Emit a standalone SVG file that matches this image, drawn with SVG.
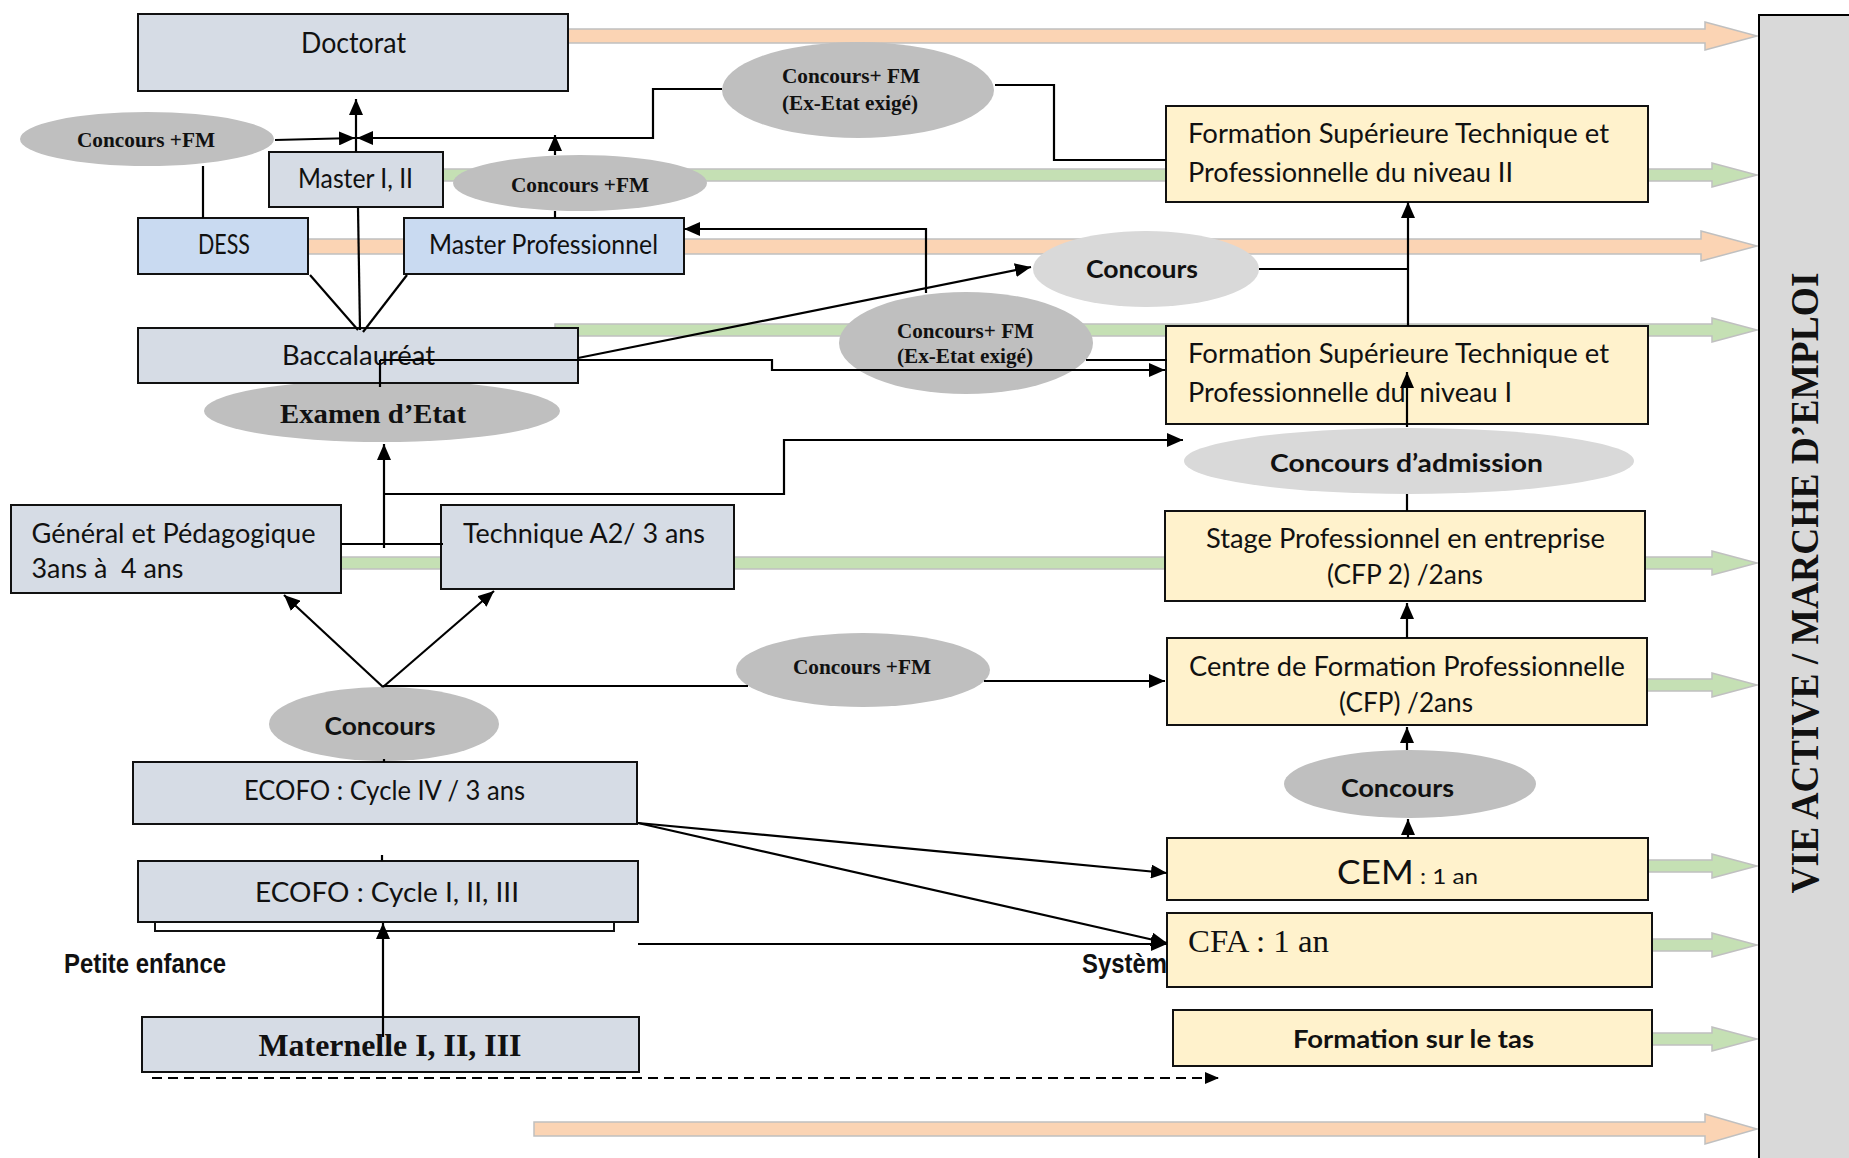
<svg xmlns="http://www.w3.org/2000/svg" width="1849" height="1158" viewBox="0 0 1849 1158">
<defs>
<marker id="ah" viewBox="0 0 16 14" markerWidth="16" markerHeight="14" refX="16" refY="7" markerUnits="userSpaceOnUse" orient="auto"><path d="M0,0 L16,7 L0,14 Z" fill="#000"/></marker>
<marker id="ahs" viewBox="0 0 14 12" markerWidth="14" markerHeight="12" refX="14" refY="6" markerUnits="userSpaceOnUse" orient="auto"><path d="M0,0 L14,6 L0,12 Z" fill="#000"/></marker>
</defs>
<style>
.box{fill:#d6dce5;stroke:#111;stroke-width:2}
.blue{fill:#c9daf1;stroke:#111;stroke-width:2}
.yel{fill:#fff2cc;stroke:#111;stroke-width:2}
.ell{fill:#bfbfbf}
.ell2{fill:#d9d9d9}
.orange{fill:#fbd4b4;stroke:#c0c0c0;stroke-width:1.5}
.green{fill:#c5e0b4;stroke:#c0c0c0;stroke-width:1.5}
.t{font-family:Lato,"Open Sans","Liberation Sans",sans-serif;font-size:26px;fill:#111}
.tb{font-family:Lato,"Open Sans","Liberation Sans",sans-serif;font-size:25px;font-weight:700;fill:#111}
.s{font-family:"Liberation Serif","Times New Roman",serif;font-weight:700;font-size:21px;fill:#111}
.n{font-family:"Liberation Sans",Arial,sans-serif;font-weight:700;font-size:28px;fill:#111}
.c{text-anchor:middle}
.ln{fill:none;stroke:#000;stroke-width:2.2}
</style>
<rect x="0" y="0" width="1849" height="1158" fill="#fff"/>

<g id="flow-arrows">
<path class="orange" d="M565,29 H1705 V22 L1757,36 L1705,50 V43 H565 Z"/>
<path class="orange" d="M305,239 H1701 V231 L1757,246 L1701,261 V254 H305 Z"/>
<path class="orange" d="M534,1122 H1705 V1114 L1757,1129 L1705,1144 V1136 H534 Z"/>
<path class="green" d="M440,169 H1712 V163 L1757,175 L1712,187 V181 H440 Z"/>
<path class="green" d="M555,324 H1712 V318 L1757,330 L1712,342 V336 H555 Z"/>
<path class="green" d="M341,557 H1712 V551 L1757,563 L1712,575 V569 H341 Z"/>
<path class="green" d="M1647,679 H1712 V673 L1757,685 L1712,697 V691 H1647 Z"/>
<path class="green" d="M1648,860 H1712 V854 L1757,866 L1712,878 V872 H1648 Z"/>
<path class="green" d="M1652,939 H1712 V933 L1757,945 L1712,957 V951 H1652 Z"/>
<path class="green" d="M1652,1033 H1712 V1027 L1757,1039 L1712,1051 V1045 H1652 Z"/>
</g>

<g id="doctorat"><rect class="box" x="138" y="14" width="430" height="77"/><text class="t c" x="353.5" y="53" style="font-size:29px" textLength="105" lengthAdjust="spacingAndGlyphs">Doctorat</text></g>
<g id="concours-fm-1"><ellipse class="ell" cx="147" cy="139" rx="127" ry="27"/><text class="s c" x="146" y="147" textLength="138" lengthAdjust="spacingAndGlyphs">Concours +FM</text></g>
<g id="master"><rect class="box" x="269" y="152" width="174" height="55"/><text class="t c" x="355.5" y="188" textLength="115" lengthAdjust="spacingAndGlyphs">Master I, II</text></g>
<g id="concours-fm-2"><ellipse class="ell" cx="580" cy="183" rx="127" ry="28"/><text class="s c" x="580" y="192" textLength="138" lengthAdjust="spacingAndGlyphs">Concours +FM</text></g>
<g id="concours-fm-exetat-1"><ellipse class="ell" cx="858" cy="90" rx="136" ry="48"/><text class="s c" x="851" y="83" textLength="138" lengthAdjust="spacingAndGlyphs">Concours+ FM</text><text class="s c" x="850" y="110" textLength="136" lengthAdjust="spacingAndGlyphs">(Ex-Etat exigé)</text></g>
<g id="dess"><rect class="blue" x="138" y="218" width="170" height="56"/><text class="t c" x="224" y="254" textLength="52" lengthAdjust="spacingAndGlyphs">DESS</text></g>
<g id="master-pro"><rect class="blue" x="404" y="218" width="280" height="56"/><text class="t c" x="543.5" y="254" textLength="229" lengthAdjust="spacingAndGlyphs">Master Professionnel</text></g>
<g id="concours-1"><ellipse class="ell2" cx="1146" cy="269" rx="113" ry="38"/><text class="tb c" x="1142" y="278" textLength="112" lengthAdjust="spacingAndGlyphs">Concours</text></g>
<g id="concours-fm-exetat-2"><ellipse class="ell" cx="966" cy="343" rx="127" ry="51"/><text class="s c" x="965.5" y="338" textLength="137" lengthAdjust="spacingAndGlyphs">Concours+ FM</text><text class="s c" x="965" y="363" textLength="136" lengthAdjust="spacingAndGlyphs">(Ex-Etat exigé)</text></g>
<g id="examen-etat"><ellipse class="ell" cx="382" cy="411" rx="178" ry="31"/><text class="s c" x="373" y="423" style="font-size:28px" textLength="186" lengthAdjust="spacingAndGlyphs">Examen d’Etat</text></g>
<g id="baccalaureat"><rect class="box" x="138" y="328" width="440" height="55"/><text class="t c" x="358.5" y="365" textLength="153" lengthAdjust="spacingAndGlyphs">Baccalauréat</text></g>
<g id="fst-2"><rect class="yel" x="1166" y="106" width="482" height="96"/><text class="t" x="1188" y="143" textLength="421" lengthAdjust="spacingAndGlyphs">Formation Supérieure Technique et</text><text class="t" x="1188" y="182" textLength="325" lengthAdjust="spacingAndGlyphs">Professionnelle du niveau II</text></g>
<g id="fst-1"><rect class="yel" x="1166" y="326" width="482" height="98"/><text class="t" x="1188" y="363" textLength="421" lengthAdjust="spacingAndGlyphs">Formation Supérieure Technique et</text><text class="t" x="1188" y="402" textLength="324" lengthAdjust="spacingAndGlyphs">Professionnelle du&#160; niveau I</text></g>
<g id="concours-admission"><ellipse class="ell2" cx="1409" cy="461" rx="225" ry="33"/><text class="tb c" x="1406.5" y="472" textLength="273" lengthAdjust="spacingAndGlyphs">Concours d’admission</text></g>
<g id="general"><rect class="box" x="11" y="505" width="330" height="88"/><text class="t" x="31.5" y="543" textLength="284" lengthAdjust="spacingAndGlyphs">Général et Pédagogique</text><text class="t" x="31.5" y="578" textLength="152" lengthAdjust="spacingAndGlyphs">3ans à&#160; 4 ans</text></g>
<g id="technique"><rect class="box" x="441" y="505" width="293" height="84"/><text class="t" x="463" y="543" textLength="242" lengthAdjust="spacingAndGlyphs">Technique A2/ 3 ans</text></g>
<g id="stage"><rect class="yel" x="1165" y="511" width="480" height="90"/><text class="t c" x="1405.5" y="548" textLength="399" lengthAdjust="spacingAndGlyphs">Stage Professionnel en entreprise</text><text class="t c" x="1405" y="584" textLength="156" lengthAdjust="spacingAndGlyphs">(CFP 2) /2ans</text></g>
<g id="cfp"><rect class="yel" x="1167" y="638" width="480" height="87"/><text class="t c" x="1407" y="676" textLength="436" lengthAdjust="spacingAndGlyphs">Centre de Formation Professionnelle</text><text class="t c" x="1406" y="712" textLength="134" lengthAdjust="spacingAndGlyphs">(CFP) /2ans</text></g>
<g id="concours-fm-3"><ellipse class="ell" cx="863" cy="670" rx="127" ry="37"/><text class="s c" x="862" y="674" textLength="138" lengthAdjust="spacingAndGlyphs">Concours +FM</text></g>
<g id="concours-2"><ellipse class="ell" cx="384" cy="724" rx="115" ry="37"/><text class="tb c" x="380" y="735" textLength="111" lengthAdjust="spacingAndGlyphs">Concours</text></g>
<g id="concours-3"><ellipse class="ell" cx="1410" cy="784" rx="126" ry="34"/><text class="tb c" x="1397.5" y="797" textLength="113" lengthAdjust="spacingAndGlyphs">Concours</text></g>
<g id="ecofo-4"><rect class="box" x="133" y="762" width="504" height="62"/><text class="t c" x="384.5" y="800" textLength="281" lengthAdjust="spacingAndGlyphs">ECOFO : Cycle IV / 3 ans</text></g>
<g id="ecofo-1"><path d="M155,922 V931 H614 V922" fill="none" stroke="#111" stroke-width="2"/><rect class="box" x="138" y="861" width="500" height="61"/><text class="t c" x="387" y="902" textLength="264" lengthAdjust="spacingAndGlyphs">ECOFO : Cycle I, II, III</text></g>
<g id="petite-enfance"><text class="n" x="64" y="973" textLength="162" lengthAdjust="spacingAndGlyphs">Petite enfance</text></g>
<g id="maternelle"><rect class="box" x="142" y="1017" width="497" height="55"/><text class="s c" x="390" y="1056" style="font-size:31px" textLength="263" lengthAdjust="spacingAndGlyphs">Maternelle I, II, III</text></g>
<g id="systeme"><text class="n" x="1082" y="973" textLength="85" lengthAdjust="spacingAndGlyphs">Systèm</text></g>
<g id="cem"><rect class="yel" x="1167" y="838" width="481" height="62"/><text class="t" x="1337" y="884" textLength="141" lengthAdjust="spacingAndGlyphs"><tspan style="font-size:32px">CEM</tspan><tspan style="font-size:22px"> : 1 an</tspan></text></g>
<g id="cfa"><rect class="yel" x="1167" y="913" width="485" height="74"/><text x="1188" y="952" style="font-family:'Liberation Serif','Times New Roman',serif;font-size:31px;fill:#111" textLength="141" lengthAdjust="spacingAndGlyphs">CFA : 1 an</text></g>
<g id="formation-tas"><rect class="yel" x="1173" y="1010" width="479" height="56"/><text class="tb c" x="1413.5" y="1048" textLength="241" lengthAdjust="spacingAndGlyphs">Formation sur le tas</text></g>
<g id="vie-active"><rect x="1759" y="15" width="100" height="1150" fill="#d9d9d9" stroke="#000" stroke-width="2"/><text class="s c" transform="translate(1818,583) rotate(-90)" style="font-size:41px" textLength="621" lengthAdjust="spacingAndGlyphs">VIE ACTIVE / MARCHE D’EMPLOI</text></g>

<g id="connectors">
<path class="ln" d="M356,152 V99" marker-end="url(#ah)"/>
<path class="ln" d="M275,140 L355,138" marker-end="url(#ah)"/>
<path class="ln" d="M722,89 H653 V138 H357" marker-end="url(#ah)"/>
<path class="ln" d="M995,85 H1054 V160 H1166"/>
<path class="ln" d="M203,166 V218"/>
<path class="ln" d="M358,208 L360,330"/>
<path class="ln" d="M310,275 L358,330"/>
<path class="ln" d="M407,275 L363,332"/>
<path class="ln" d="M555,218 V211"/>
<path class="ln" d="M555,155 V135" marker-end="url(#ah)"/>
<path class="ln" d="M578,358 L1031,267" marker-end="url(#ah)"/>
<path class="ln" d="M1259,269 H1408"/>
<path class="ln" d="M1408,326 V202" marker-end="url(#ah)"/>
<path class="ln" d="M380,360 H772 V370 H1165" marker-end="url(#ah)"/>
<path class="ln" d="M380,360 V387"/>
<path class="ln" d="M1086,360 H1167"/>
<path class="ln" d="M926,293 V229 H684" marker-end="url(#ah)"/>
<path class="ln" d="M341,544 H443"/>
<path class="ln" d="M384,548 V444" marker-end="url(#ah)"/>
<path class="ln" d="M384,494 H784 V440 H1183" marker-end="url(#ah)"/>
<path class="ln" d="M383,687 L284,595" marker-end="url(#ah)"/>
<path class="ln" d="M383,687 L494,591" marker-end="url(#ah)"/>
<path class="ln" d="M383,686 H748"/>
<path class="ln" d="M984,681 H1165" marker-end="url(#ah)"/>
<path class="ln" d="M384,759 V762"/>
<path class="ln" d="M1407,638 V603" marker-end="url(#ah)"/>
<path class="ln" d="M1407,511 V494"/>
<path class="ln" d="M1407,427 V372" marker-end="url(#ah)"/>
<path class="ln" d="M1407,750 V727" marker-end="url(#ah)"/>
<path class="ln" d="M1408,838 V819" marker-end="url(#ah)"/>
<path class="ln" d="M638,823 L1167,873" marker-end="url(#ah)"/>
<path class="ln" d="M638,823 L1167,943" marker-end="url(#ah)"/>
<path class="ln" d="M638,944 H1167" marker-end="url(#ah)"/>
<path class="ln" d="M383,1037 V923" marker-end="url(#ah)"/>
<path class="ln" d="M382,861 V855"/>
<path class="ln" d="M152,1078 H1219" stroke-dasharray="10 6" marker-end="url(#ahs)"/>
</g>
</svg>
